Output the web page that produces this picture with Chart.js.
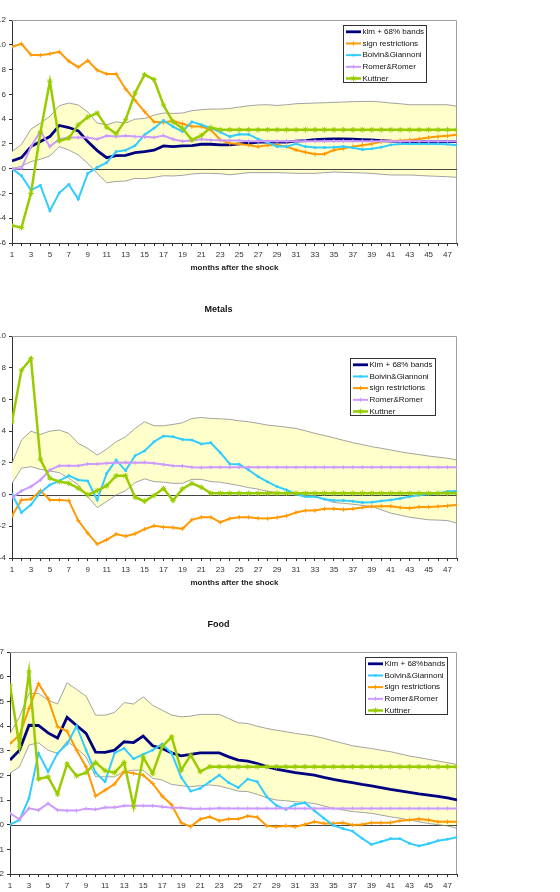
<!DOCTYPE html>
<html>
<head>
<meta charset="utf-8">
<script src="https://cdn.jsdelivr.net/npm/chart.js@4.4.0/dist/chart.umd.min.js"></script>
<style>
  body { margin: 0; width: 560px; height: 892px; overflow: hidden; background: #fff; position: relative; }
  canvas { position: absolute; left: 0; }
</style>
</head>
<body>
<canvas id="grafico_oil" width="560" height="280" style="top:0px"></canvas>
<canvas id="grafico_metals" width="560" height="305" style="top:290px"></canvas>
<canvas id="grafico_food" width="560" height="311" style="top:600px"></canvas>
<script>
// months after the shock
const months = [1,2,3,4,5,6,7,8,9,10,11,12,13,14,15,16,17,18,19,20,21,22,23,24,
  25,26,27,28,29,30,31,32,33,34,35,36,37,38,39,40,41,42,43,44,45,46,47,48];

// ---- top panel
const oil_kim = [0.62,0.89,1.78,2.19,2.59,3.49,3.32,3.05,2.19,1.46, 0.89,1.05,1.08,1.30,1.38,1.49,1.84,1.78,1.84,1.86,
  1.97,1.97,1.92,1.92,2.00,2.05,2.14,2.14,2.14,2.14, 2.22,2.27,2.35,2.38,2.40,2.40,2.38,2.35,2.32,2.27,
  2.22,2.20,2.19,2.19,2.19,2.19,2.19,2.19];
const oil_upper = [1.38,1.95,3.19,3.68,4.22,5.08,5.30,5.14,4.57,3.68, 3.54,3.78,3.68,4.00,4.05,4.32,4.49,4.46,4.49,4.68,
  4.76,4.81,4.81,4.86,4.97,5.08,5.14,5.16,5.10,5.16, 5.24,5.27,5.30,5.32,5.35,5.38,5.41,5.42,5.43,5.38,
  5.30,5.24,5.16,5.16,5.16,5.16,5.16,5.03];
const oil_lower = [0.00,0.20,0.57,0.76,1.03,1.78,1.51,1.11,0.43,-0.38, -1.14,-1.03,-1.00,-0.78,-0.81,-0.70,-0.57,-0.59,-0.54,-0.43,
  -0.38,-0.38,-0.41,-0.49,-0.41,-0.32,-0.32,-0.32,-0.32,-0.35, -0.38,-0.38,-0.38,-0.32,-0.27,-0.30,-0.32,-0.35,-0.38,-0.45,
  -0.51,-0.51,-0.51,-0.55,-0.59,-0.62,-0.65,-0.70];
const oil_sign = [9.84,10.08,9.20,9.16,9.27,9.43,8.68,8.19,8.73,7.95, 7.65,7.65,6.43,5.51,4.60,3.78,3.73,3.86,3.62,3.40,
  3.40,3.13,2.32,2.05,2.00,1.90,1.78,1.90,1.92,1.78, 1.51,1.32,1.16,1.19,1.51,1.62,1.78,1.89,2.00,2.19,
  2.24,2.27,2.32,2.40,2.51,2.59,2.65,2.73];
const oil_boivin = [0.00,-0.57,-1.73,-1.35,-3.40,-1.95,-1.27,-2.46,-0.38,0.11, 0.49,1.38,1.49,1.86,2.73,3.27,3.89,3.40,3.00,3.78,
  3.54,3.27,2.95,2.59,2.78,2.76,2.38,2.11,1.78,1.78, 2.00,1.78,1.70,1.70,1.73,1.78,1.68,1.54,1.60,1.73,
  1.92,2.00,2.00,2.00,2.00,2.00,1.97,1.89];
const oil_romer = [0.00,0.03,1.78,3.00,1.78,2.38,2.51,2.51,2.51,2.38, 2.65,2.59,2.65,2.59,2.57,2.51,2.68,2.38,2.22,2.27,
  2.38,2.32,2.30,2.27,2.27,2.22,2.22,2.22,2.22,2.22, 2.22,2.22,2.22,2.22,2.22,2.22,2.22,2.22,2.22,2.22,
  2.22,2.22,2.22,2.22,2.22,2.22,2.22,2.22];
const oil_kuttner = [-4.59,-4.76,-2.00,2.92,7.05,2.24,2.46,3.54,4.16,4.49, 3.35,2.81,3.95,6.11,7.59,7.19,5.14,3.78,3.27,2.32,
  2.68,3.32,3.14,3.14,3.14,3.14,3.14,3.14,3.14,3.14, 3.14,3.14,3.14,3.14,3.14,3.14,3.14,3.14,3.14,3.14,
  3.14,3.14,3.14,3.14,3.14,3.14,3.14,3.14];

// ---- Metals
const metals_kim = [];
const metals_upper = [1.97,3.44,4.00,3.79,4.00,4.07,3.86,3.23,2.91,2.49, 2.87,3.33,3.65,4.17,4.59,4.34,4.34,4.42,4.53,4.80,
  4.86,4.80,4.78,4.74,4.65,4.59,4.49,4.38,4.32,4.25, 4.17,4.02,3.86,3.72,3.58,3.42,3.27,3.15,3.02,2.92,
  2.81,2.70,2.60,2.52,2.43,2.36,2.29,2.18];
const metals_lower = [0.71,1.66,1.76,1.59,1.49,1.38,1.03,0.61,-0.13,-0.82, -0.44,-0.02,0.25,0.75,0.99,0.82,0.78,0.71,0.71,0.96,
  0.96,0.82,0.78,0.67,0.57,0.44,0.34,0.21,0.13,0.08, 0.02,-0.03,-0.08,-0.30,-0.50,-0.55,-0.61,-0.68,-0.75,-0.96,
  -1.17,-1.30,-1.43,-1.51,-1.59,-1.61,-1.64,-1.80];
const metals_boivin = [0.04,-1.13,-0.65,0.13,0.61,0.86,1.19,0.92,0.86,-0.34, 1.34,2.18,1.51,2.45,2.75,3.33,3.69,3.65,3.48,3.44,
  3.19,3.27,2.64,1.93,1.91,1.55,1.13,0.80,0.50,0.29, 0.02,-0.13,-0.13,-0.29,-0.38,-0.38,-0.42,-0.50,-0.48,-0.40,
  -0.34,-0.25,-0.13,-0.04,0.04,0.08,0.19,0.23];
const metals_sign = [-1.34,-0.34,-0.29,0.25,-0.34,-0.34,-0.38,-1.64,-2.43,-3.12, -2.85,-2.49,-2.62,-2.47,-2.18,-1.97,-2.05,-2.08,-2.16,-1.59,
  -1.43,-1.43,-1.76,-1.51,-1.43,-1.43,-1.49,-1.51,-1.45,-1.34, -1.13,-1.01,-1.01,-0.90,-0.90,-0.94,-0.90,-0.82,-0.75,-0.73,
  -0.73,-0.82,-0.86,-0.78,-0.78,-0.75,-0.71,-0.65];
const metals_romer = [-0.19,0.23,0.50,0.92,1.55,1.82,1.82,1.82,1.93,1.93, 1.97,2.01,2.03,2.01,2.03,1.97,1.89,1.82,1.80,1.72,
  1.70,1.72,1.72,1.72,1.72,1.72,1.72,1.72,1.72,1.72, 1.72,1.72,1.72,1.72,1.72,1.72,1.72,1.72,1.72,1.72,
  1.72,1.72,1.72,1.72,1.72,1.72,1.72,1.72];
const metals_kuttner = [4.59,7.84,8.57,2.22,1.03,0.82,0.71,0.40,-0.02,0.25, 0.55,1.19,1.19,-0.17,-0.42,-0.06,0.38,-0.38,0.36,0.71,
  0.46,0.08,0.08,0.08,0.08,0.08,0.08,0.08,0.08,0.08, 0.08,0.08,0.08,0.08,0.08,0.08,0.08,0.08,0.08,0.08,
  0.08,0.08,0.08,0.08,0.08,0.08,0.08,0.08];

// ---- Food
const food_kim = [2.62,3.02,4.03,4.02,3.72,3.51,4.35,4.02,3.70,2.94, 2.93,3.02,3.36,3.33,3.59,3.20,3.09,2.91,2.79,2.85,
  2.91,2.91,2.91,2.75,2.62,2.58,2.48,2.35,2.25,2.18, 2.11,2.06,2.01,1.92,1.84,1.77,1.70,1.63,1.57,1.50,
  1.43,1.37,1.31,1.25,1.20,1.15,1.09,1.00];
const food_upper = [3.70,4.37,5.32,5.32,5.05,4.89,5.75,5.48,5.21,4.44, 4.44,4.55,4.95,4.89,5.18,4.84,4.64,4.44,4.37,4.40,
  4.47,4.47,4.47,4.30,4.13,4.10,3.99,3.90,3.83,3.77, 3.70,3.65,3.59,3.50,3.40,3.30,3.20,3.14,3.09,3.02,
  2.96,2.87,2.78,2.72,2.65,2.58,2.51,2.44];
const food_lower = [2.08,2.35,3.23,3.32,3.02,2.89,3.39,3.09,2.75,1.94, 1.94,1.94,2.15,2.21,2.21,1.88,1.81,1.63,1.58,1.54,
  1.58,1.61,1.57,1.47,1.36,1.34,1.23,1.09,1.00,0.97, 0.93,0.90,0.86,0.76,0.66,0.60,0.53,0.50,0.46,0.39,
  0.32,0.26,0.19,0.12,0.05,0.00,-0.05,-0.15];
const food_boivin = [0.00,0.19,1.07,2.89,2.15,2.89,3.27,3.99,3.02,2.11, 1.74,2.91,3.09,2.67,2.85,3.02,3.27,2.89,1.92,1.36,
  1.47,1.74,2.01,1.70,1.50,1.85,1.74,1.13,0.78,0.62, 0.82,0.89,0.57,0.26,-0.03,-0.16,-0.26,-0.55,-0.80,-0.69,
  -0.57,-0.57,-0.76,-0.86,-0.77,-0.65,-0.59,-0.51];
const food_sign = [3.29,3.63,4.71,5.72,5.11,3.97,3.79,3.02,2.35,1.16, 1.40,1.65,2.15,2.08,2.01,1.67,1.16,0.80,0.08,-0.08,
  0.22,0.32,0.16,0.23,0.23,0.35,0.30,-0.05,-0.08,-0.04, -0.08,0.01,0.12,0.05,0.05,0.08,-0.01,0.01,0.08,0.08,
  0.08,0.16,0.19,0.23,0.19,0.12,0.12,0.12];
const food_romer = [0.46,0.22,0.66,0.59,0.86,0.59,0.57,0.57,0.65,0.62, 0.70,0.70,0.77,0.77,0.77,0.77,0.73,0.69,0.69,0.65,
  0.65,0.65,0.67,0.66,0.66,0.66,0.66,0.66,0.66,0.66, 0.66,0.66,0.66,0.66,0.66,0.66,0.66,0.66,0.66,0.66,
  0.66,0.66,0.66,0.66,0.66,0.66,0.66,0.66];
const food_kuttner = [5.65,3.16,6.19,1.85,1.94,1.24,2.46,1.98,2.11,2.52, 2.19,2.11,2.52,0.73,2.73,2.08,3.16,3.56,2.21,2.82,
  2.15,2.35,2.35,2.35,2.35,2.35,2.35,2.35,2.35,2.35, 2.35,2.35,2.35,2.35,2.35,2.35,2.35,2.35,2.35,2.35,
  2.35,2.35,2.35,2.35,2.35,2.35,2.35,2.35];

const navy = '#000080';
const orange = '#FF9900';
const cyan = '#33CCFF';
const lilac = '#CC99FF';
const green = '#99CC00';
const fonte = '"Liberation Sans", Arial, sans-serif';

function linha(label, data, color, width, style, radius, order) {
  return {
    label: label, data: data, borderColor: color, backgroundColor: color,
    borderWidth: width, pointStyle: style || 'circle', pointRadius: style ? radius : 0,
    pointBorderColor: color, pointBackgroundColor: color, pointBorderWidth: 1,
    pointHoverRadius: 0, tension: 0, fill: false, order: order
  };
}

function banda(data, fill) {
  return {
    label: '', data: data, borderColor: '#8C8C8C', borderWidth: 0.8, pointRadius: 0,
    backgroundColor: '#FFFFCC', fill: fill, tension: 0, order: 10
  };
}

function marca(ctx, style, x, y, r, color) {
  ctx.save();
  ctx.strokeStyle = color; ctx.fillStyle = color; ctx.lineWidth = 1;
  ctx.beginPath();
  if (style === 'rect') {
    ctx.fillRect(x - r, y - r, 2 * r, 2 * r);
  } else {
    ctx.moveTo(x - r, y); ctx.lineTo(x + r, y);
    ctx.moveTo(x, y - r); ctx.lineTo(x, y + r);
    if (style === 'star') {
      ctx.moveTo(x - r * 0.7, y - r * 0.7); ctx.lineTo(x + r * 0.7, y + r * 0.7);
      ctx.moveTo(x - r * 0.7, y + r * 0.7); ctx.lineTo(x + r * 0.7, y - r * 0.7);
    }
    ctx.stroke();
  }
  ctx.restore();
}

const legendaBox = {
  id: 'legendaBox',
  afterDraw(chart, args, opts) {
    const ctx = chart.ctx;
    ctx.save();
    ctx.fillStyle = '#fff';
    ctx.fillRect(opts.x, opts.y, opts.w, opts.h);
    ctx.strokeStyle = '#333'; ctx.lineWidth = 1;
    ctx.strokeRect(opts.x + 0.5, opts.y + 0.5, opts.w, opts.h);
    ctx.font = '8px ' + fonte;
    ctx.textBaseline = 'middle';
    opts.items.forEach((idx, i) => {
      const ds = chart.data.datasets[idx];
      const yy = opts.y + 6.8 + i * 11.67;
      ctx.strokeStyle = ds.borderColor; ctx.lineWidth = ds.borderWidth;
      ctx.beginPath(); ctx.moveTo(opts.x + 3, yy); ctx.lineTo(opts.x + 18, yy); ctx.stroke();
      if (ds.pointRadius) marca(ctx, ds.pointStyle, opts.x + 10.5, yy, ds.pointRadius, ds.borderColor);
      ctx.fillStyle = '#111';
      ctx.fillText(ds.label, opts.x + 19.5, yy);
    });
    ctx.restore();
  }
};

const moldura = {
  id: 'moldura',
  beforeDatasetsDraw(chart) {
    const ctx = chart.ctx, a = chart.chartArea;
    const y0 = Math.round(chart.scales.y.getPixelForValue(0)) + 0.5;
    ctx.save();
    ctx.strokeStyle = '#A0A0A0'; ctx.lineWidth = 1;
    ctx.beginPath();
    ctx.moveTo(a.left, a.top + 0.5); ctx.lineTo(a.right - 0.5, a.top + 0.5); ctx.lineTo(a.right - 0.5, a.bottom);
    ctx.stroke();
    ctx.strokeStyle = '#444';
    ctx.beginPath(); ctx.moveTo(a.left, y0); ctx.lineTo(a.right, y0); ctx.stroke();
    ctx.restore();
  }
};

const tituloPainel = {
  id: 'tituloPainel',
  afterDraw(chart, args, opts) {
    if (!opts.text) return;
    const ctx = chart.ctx;
    ctx.save();
    ctx.font = 'bold 9px ' + fonte;
    ctx.fillStyle = '#111';
    ctx.textAlign = 'center'; ctx.textBaseline = 'middle';
    ctx.fillText(opts.text, opts.x, opts.y);
    ctx.restore();
  }
};

function grafico(id, cfg) {
  const ctx1 = document.getElementById(id);
  const ds = [
    linha(cfg.nomeKim, cfg.kim, navy, 2.8, null, 0, 5),
    linha('sign restrictions', cfg.sign, orange, 2, 'cross', 2.2, 4),
    linha('Boivin&Giannoni', cfg.boivin, cyan, 2, 'rect', 1.2, 3),
    linha('Romer&Romer', cfg.romer, lilac, 2, 'cross', 2, 2),
    linha('Kuttner', cfg.kuttner, green, 2.5, 'star', 2.8, 1),
    banda(cfg.upper, '+1'),
    banda(cfg.lower, false)
  ];
  new Chart(ctx1, {
    type: 'line',
    data: { labels: months, datasets: ds },
    plugins: [moldura, legendaBox, tituloPainel],
    options: {
      responsive: false,
      animation: false,
      devicePixelRatio: 1,
      layout: { padding: { left: 0, right: 103, top: cfg.top, bottom: 0 } },
      scales: {
        x: {
          type: 'linear', min: 1, max: 48,
          ticks: {
            stepSize: 1, autoSkip: false, maxRotation: 0, padding: 4, color: '#333',
            font: { family: fonte, size: 8 },
            callback: v => (v % 2 === 1 ? String(v) : '')
          },
          grid: { drawOnChartArea: false, tickLength: 3, tickColor: '#333' },
          border: { color: '#333', width: 1 },
          title: {
            display: true, text: 'months after the shock', color: '#222',
            font: { family: fonte, size: 8, weight: 'bold' },
            padding: { top: 0, bottom: 7 }
          },
          afterFit(s) { s.height = 37; }
        },
        y: {
          min: cfg.min, max: cfg.max,
          ticks: { stepSize: cfg.step, padding: 3, color: '#333', font: { family: fonte, size: 8 } },
          grid: { drawOnChartArea: false, tickLength: 3, tickColor: '#333' },
          border: { color: '#333', width: 1 },
          afterFit(s) { s.width = cfg.yw; }
        }
      },
      plugins: {
        legend: { display: false },
        tooltip: { enabled: false },
        filler: { drawTime: 'beforeDatasetsDraw' },
        legendaBox: cfg.legenda,
        tituloPainel: cfg.titulo
      }
    }
  });
}

grafico('grafico_oil', {
  nomeKim: 'kim + 68% bands', kim: oil_kim, sign: oil_sign, boivin: oil_boivin, romer: oil_romer,
  kuttner: oil_kuttner, upper: oil_upper, lower: oil_lower,
  min: -6, max: 12, step: 2, yw: 12, top: 20,
  legenda: { x: 343, y: 25, w: 83, h: 57, items: [0, 1, 2, 3, 4] },
  titulo: {}
});

grafico('grafico_metals', {
  nomeKim: 'Kim + 68% bands', kim: metals_kim, sign: metals_sign, boivin: metals_boivin, romer: metals_romer,
  kuttner: metals_kuttner, upper: metals_upper, lower: metals_lower,
  min: -4, max: 10, step: 2, yw: 12, top: 46,
  legenda: { x: 350, y: 68, w: 85, h: 57, items: [0, 2, 1, 3, 4] },
  titulo: { text: 'Metals', x: 218.5, y: 19.5 }
});

grafico('grafico_food', {
  nomeKim: 'Kim + 68%bands', kim: food_kim, sign: food_sign, boivin: food_boivin, romer: food_romer,
  kuttner: food_kuttner, upper: food_upper, lower: food_lower,
  min: -2, max: 7, step: 1, yw: 10, top: 52,
  legenda: { x: 365, y: 57, w: 82, h: 57, items: [0, 2, 1, 3, 4] },
  titulo: { text: 'Food', x: 218.5, y: 25 }
});
</script>
</body>
</html>
